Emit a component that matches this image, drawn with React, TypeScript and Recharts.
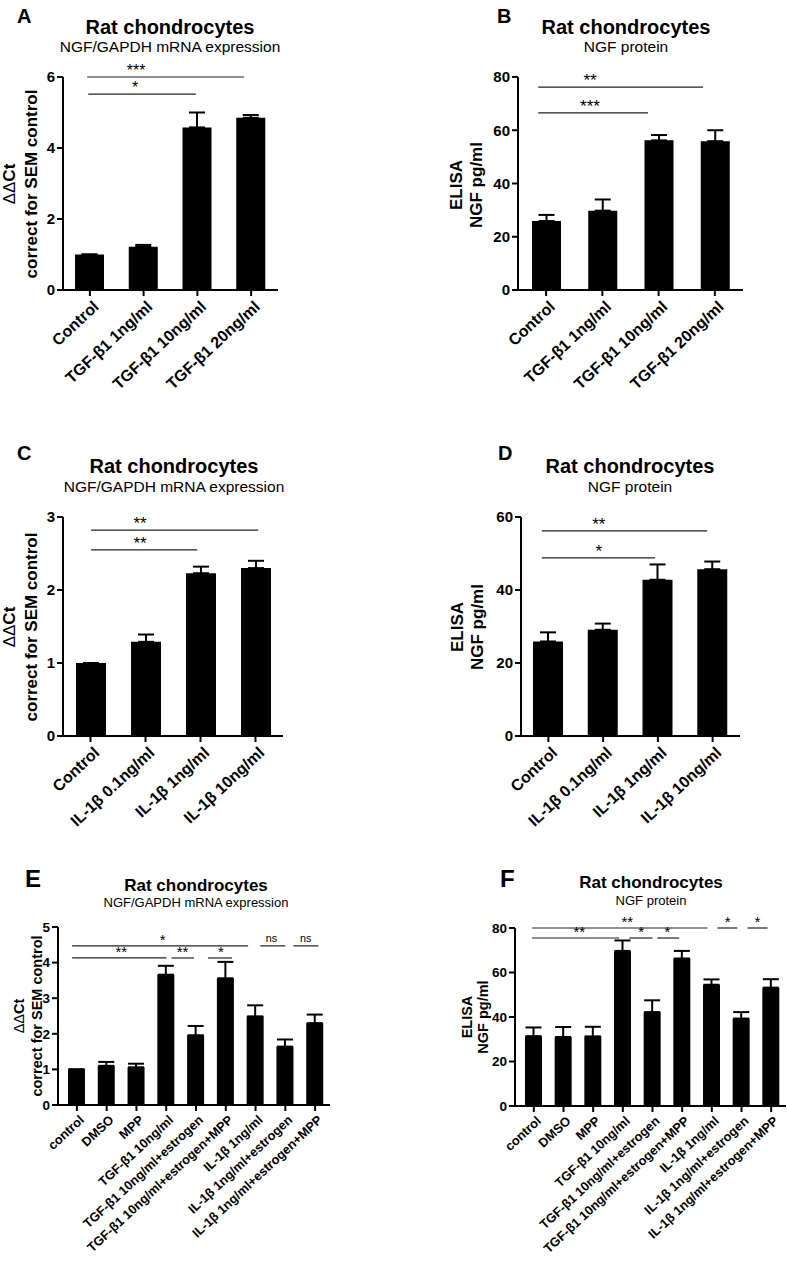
import React from 'react';
import { BarChart, Bar, XAxis, YAxis, ErrorBar, ReferenceLine, ReferenceDot } from 'recharts';

const FONT = '"Liberation Sans", Arial, Helvetica, sans-serif';

// A / B: TGF-β1 dose
const tgfDoseLabels = ['Control', 'TGF-β1 1ng/ml', 'TGF-β1 10ng/ml', 'TGF-β1 20ng/ml'];
const tgfMrnaMeans = [1.0, 1.22, 4.58, 4.85];
const tgfMrnaSem = [0, 0.05, 0.42, 0.08];
const tgfElisaMeans = [25.9, 29.8, 56.2, 55.9];
const tgfElisaSem = [2.3, 4.2, 2.0, 4.1];

// C / D: IL-1β dose
const ilDoseLabels = ['Control', 'IL-1β 0.1ng/ml', 'IL-1β 1ng/ml', 'IL-1β 10ng/ml'];
const ilMrnaMeans = [1.0, 1.29, 2.23, 2.3];
const ilMrnaSem = [0, 0.1, 0.09, 0.1];
const ilElisaMeans = [25.9, 29.1, 42.8, 45.7];
const ilElisaSem = [2.5, 1.7, 4.2, 2.1];

// E / F: estrogen / MPP treatments
const treatLabels = [
  'control',
  'DMSO',
  'MPP',
  'TGF-β1 10ng/ml',
  'TGF-β1 10ng/ml+estrogen',
  'TGF-β1 10ng/ml+estrogen+MPP',
  'IL-1β 1ng/ml',
  'IL-1β 1ng/ml+estrogen',
  'IL-1β 1ng/ml+estrogen+MPP',
];
const treatMrnaMeans = [1.0, 1.1, 1.06, 3.66, 1.96, 3.56, 2.49, 1.64, 2.3];
const treatMrnaSem = [0, 0.11, 0.1, 0.25, 0.26, 0.46, 0.31, 0.2, 0.24];
const treatElisaMeans = [31.4, 31.0, 31.3, 69.7, 42.2, 66.3, 54.5, 39.3, 53.2];
const treatElisaSem = [3.9, 4.5, 4.3, 4.7, 5.3, 3.4, 2.4, 2.9, 3.8];

// y ticks
const ticksMrnaA = [0, 2, 4, 6];
const ticksElisaB = [0, 20, 40, 60, 80];
const ticksMrnaC = [0, 1, 2, 3];
const ticksElisaD = [0, 20, 40, 60];
const ticksMrnaE = [0, 1, 2, 3, 4, 5];
const ticksElisaF = [0, 20, 40, 60, 80];

// significance bars: from/to/at are category positions (0 = first bar)
type Bracket = { from: number; to: number; y: number; text: string; at: number };

const sigA: Bracket[] = [
  { from: -0.05, to: 2.87, y: 6.0, text: '***', at: 0.86 },
  { from: -0.03, to: 1.97, y: 5.52, text: '*', at: 0.84 },
];
const sigB: Bracket[] = [
  { from: -0.14, to: 2.79, y: 76.2, text: '**', at: 0.78 },
  { from: -0.14, to: 1.81, y: 66.5, text: '***', at: 0.78 },
];
const sigC: Bracket[] = [
  { from: 0.01, to: 3.05, y: 2.82, text: '**', at: 0.9 },
  { from: 0.01, to: 1.94, y: 2.55, text: '**', at: 0.9 },
];
const sigD: Bracket[] = [
  { from: -0.12, to: 2.9, y: 56.2, text: '**', at: 0.92 },
  { from: -0.12, to: 1.95, y: 48.8, text: '*', at: 0.92 },
];
const sigE: Bracket[] = [
  { from: -0.16, to: 5.75, y: 4.47, text: '*', at: 2.88 },
  { from: -0.16, to: 3.01, y: 4.13, text: '**', at: 1.49 },
  { from: 3.18, to: 3.93, y: 4.13, text: '**', at: 3.55 },
  { from: 4.4, to: 5.21, y: 4.13, text: '*', at: 4.84 },
  { from: 6.16, to: 7.0, y: 4.47, text: 'ns', at: 6.53 },
  { from: 7.27, to: 8.11, y: 4.47, text: 'ns', at: 7.68 },
];
const sigF: Bracket[] = [
  { from: -0.06, to: 5.85, y: 80, text: '**', at: 3.15 },
  { from: -0.06, to: 2.88, y: 75.5, text: '**', at: 1.53 },
  { from: 3.22, to: 4.0, y: 75.5, text: '*', at: 3.62 },
  { from: 4.16, to: 4.9, y: 75.5, text: '*', at: 4.5 },
  { from: 6.19, to: 6.86, y: 80, text: '*', at: 6.53 },
  { from: 7.2, to: 7.88, y: 80, text: '*', at: 7.54 },
];

const SlantTick = (props: any) => {
  const { x, y, payload, fs } = props;
  return (
    <g transform={`translate(${x + fs * 0.62},${y + fs * 0.62})`}>
      <text
        transform="rotate(-43)"
        textAnchor="end"
        fontSize={fs}
        fontWeight="bold"
        fontFamily={FONT}
        fill="#000"
      >
        {payload.value}
      </text>
    </g>
  );
};

type Plot = { left: number; top: number; right: number; bottom: number };

interface PanelProps {
  plot: Plot;
  labels: string[];
  means: number[];
  sems: number[];
  domain: [number, number];
  ticks: number[];
  brackets: Bracket[];
  barSize: number;
  tickFont: number;
  labelFont: number;
  starFont: number;
  padLeft: number;
}

const Panel: React.FC<PanelProps> = ({
  plot, labels, means, sems, domain, ticks, brackets, barSize, tickFont, labelFont, starFont, padLeft,
}) => {
  const data = labels.map((name, i) => ({ name, idx: i, mean: means[i], err: [0, sems[i]] }));
  const yW = 40;
  const mTop = 30;
  const xH = 160;
  const width = plot.right - plot.left + yW + 10;
  const height = plot.bottom - plot.top + mTop + xH;
  const axisStyle = { stroke: '#000', strokeWidth: 2 };

  return (
    <div style={{ position: 'absolute', left: plot.left - yW, top: plot.top - mTop }}>
      <BarChart
        width={width}
        height={height}
        data={data}
        margin={{ top: mTop, right: 10, left: 0, bottom: 0 }}
        style={{ overflow: 'visible' }}
      >
        <XAxis
          xAxisId="c"
          dataKey="name"
          type="category"
          height={xH}
          interval={0}
          padding={{ left: padLeft, right: 0 }}
          axisLine={axisStyle}
          tickLine={axisStyle}
          tickSize={6}
          tick={<SlantTick fs={labelFont} />}
        />
        <XAxis
          xAxisId="n"
          dataKey="idx"
          type="number"
          domain={[-0.5, labels.length - 0.5]}
          allowDataOverflow
          padding={{ left: padLeft, right: 0 }}
          hide
        />
        <YAxis
          width={yW}
          domain={domain}
          ticks={ticks}
          interval={0}
          axisLine={axisStyle}
          tickLine={axisStyle}
          tickSize={6}
          tick={{ fill: '#000', fontSize: tickFont, fontWeight: 'bold', fontFamily: FONT }}
        />
        <Bar xAxisId="c" dataKey="mean" fill="#000" barSize={barSize} isAnimationActive={false}>
          <ErrorBar dataKey="err" width={8} strokeWidth={2} stroke="#000" direction="y" />
        </Bar>
        {brackets.map((b, i) => (
          <ReferenceLine
            key={'l' + i}
            xAxisId="n"
            segment={[{ x: b.from, y: b.y }, { x: b.to, y: b.y }]}
            stroke="#222"
            strokeWidth={1.2}
          />
        ))}
        {brackets.map((b, i) => (
          <ReferenceDot
            key={'t' + i}
            xAxisId="n"
            x={b.at}
            y={b.y}
            r={0}
            fill="none"
            stroke="none"
            label={{
              value: b.text,
              position: 'top',
              offset: b.text === 'ns' ? 4 : 1,
              fontSize: b.text === 'ns' ? starFont * 0.72 : starFont,
              fill: '#000',
              fontFamily: FONT,
            }}
          />
        ))}
      </BarChart>
    </div>
  );
};

// titles, panel letters and y-axis captions
const titles = [
  { letter: 'A', lx: 17, ly: 23, cx: 170, ty: 34, sy: 52, sub: 'NGF/GAPDH mRNA expression', big: true },
  { letter: 'B', lx: 497, ly: 23, cx: 626, ty: 34, sy: 52, sub: 'NGF protein', big: true },
  { letter: 'C', lx: 17, ly: 460, cx: 174, ty: 473, sy: 492, sub: 'NGF/GAPDH mRNA expression', big: true },
  { letter: 'D', lx: 498, ly: 460, cx: 630, ty: 473, sy: 492, sub: 'NGF protein', big: true },
  { letter: 'E', lx: 25, ly: 887, cx: 196, ty: 891, sy: 907, sub: 'NGF/GAPDH mRNA expression', big: false },
  { letter: 'F', lx: 500, ly: 887, cx: 651, ty: 888, sy: 905, sub: 'NGF protein', big: false },
];

const yCaptions = [
  { kind: 'ct', x1: 15, x2: 37, cy: 184, fs: 17 },
  { kind: 'elisa', x1: 462, x2: 482, cy: 185, fs: 17 },
  { kind: 'ct', x1: 15, x2: 37, cy: 627, fs: 17 },
  { kind: 'elisa', x1: 463, x2: 483, cy: 627, fs: 17 },
  { kind: 'ct', x1: 24, x2: 42, cy: 1016, fs: 14.5 },
  { kind: 'elisa', x1: 472, x2: 488, cy: 1017, fs: 14.5 },
];

const Overlay = () => (
  <svg
    width={787}
    height={1263}
    style={{ position: 'absolute', left: 0, top: 0, pointerEvents: 'none' }}
    fontFamily={FONT}
  >
    {titles.map((t) => (
      <g key={t.letter}>
        <text x={t.lx} y={t.ly} fontSize={t.big ? 20 : 24} fontWeight="bold" fill="#000">{t.letter}</text>
        <text x={t.cx} y={t.ty} fontSize={t.big ? 20 : 17} fontWeight="bold" textAnchor="middle" fill="#000">
          Rat chondrocytes
        </text>
        <text x={t.cx} y={t.sy} fontSize={t.big ? 15.5 : 13} textAnchor="middle" fill="#000">{t.sub}</text>
      </g>
    ))}
    {yCaptions.map((c, i) => (
      <g key={i} fontSize={c.fs} fontWeight="bold" fill="#000">
        <text x={c.x1} y={c.cy} textAnchor="middle" transform={`rotate(-90 ${c.x1} ${c.cy})`}>
          {c.kind === 'ct' ? (
            <>
              <tspan fontWeight="normal">ΔΔ</tspan>Ct
            </>
          ) : (
            'ELISA'
          )}
        </text>
        <text x={c.x2} y={c.cy} textAnchor="middle" transform={`rotate(-90 ${c.x2} ${c.cy})`}>
          {c.kind === 'ct' ? 'correct for SEM control' : 'NGF pg/ml'}
        </text>
      </g>
    ))}
  </svg>
);

export default function App() {
  return (
    <div
      style={{
        position: 'absolute',
        left: 0,
        top: 0,
        width: 787,
        height: 1263,
        overflow: 'hidden',
        background: '#fff',
        fontFamily: FONT,
      }}
    >
      <Panel
        plot={{ left: 63, top: 77, right: 278, bottom: 290 }}
        labels={tgfDoseLabels}
        means={tgfMrnaMeans}
        sems={tgfMrnaSem}
        domain={[0, 6]}
        ticks={ticksMrnaA}
        brackets={sigA}
        barSize={29}
        tickFont={15}
        labelFont={16}
        starFont={16}
        padLeft={0}
      />
      <Panel
        plot={{ left: 518, top: 77, right: 743, bottom: 290 }}
        labels={tgfDoseLabels}
        means={tgfElisaMeans}
        sems={tgfElisaSem}
        domain={[0, 80]}
        ticks={ticksElisaB}
        brackets={sigB}
        barSize={29}
        tickFont={15}
        labelFont={16}
        starFont={17}
        padLeft={0}
      />
      <Panel
        plot={{ left: 63, top: 517, right: 283, bottom: 736 }}
        labels={ilDoseLabels}
        means={ilMrnaMeans}
        sems={ilMrnaSem}
        domain={[0, 3]}
        ticks={ticksMrnaC}
        brackets={sigC}
        barSize={30}
        tickFont={15}
        labelFont={16}
        starFont={17}
        padLeft={0}
      />
      <Panel
        plot={{ left: 521, top: 517, right: 740, bottom: 736 }}
        labels={ilDoseLabels}
        means={ilElisaMeans}
        sems={ilElisaSem}
        domain={[0, 60]}
        ticks={ticksElisaD}
        brackets={sigD}
        barSize={30}
        tickFont={15}
        labelFont={16}
        starFont={17}
        padLeft={0}
      />
      <Panel
        plot={{ left: 58, top: 927, right: 330, bottom: 1105 }}
        labels={treatLabels}
        means={treatMrnaMeans}
        sems={treatMrnaSem}
        domain={[0, 5]}
        ticks={ticksMrnaE}
        brackets={sigE}
        barSize={17}
        tickFont={13.5}
        labelFont={12.8}
        starFont={15}
        padLeft={4}
      />
      <Panel
        plot={{ left: 515, top: 928, right: 786, bottom: 1106 }}
        labels={treatLabels}
        means={treatElisaMeans}
        sems={treatElisaSem}
        domain={[0, 80]}
        ticks={ticksElisaF}
        brackets={sigF}
        barSize={17}
        tickFont={13.5}
        labelFont={12.8}
        starFont={15}
        padLeft={4}
      />
      <Overlay />
    </div>
  );
}
